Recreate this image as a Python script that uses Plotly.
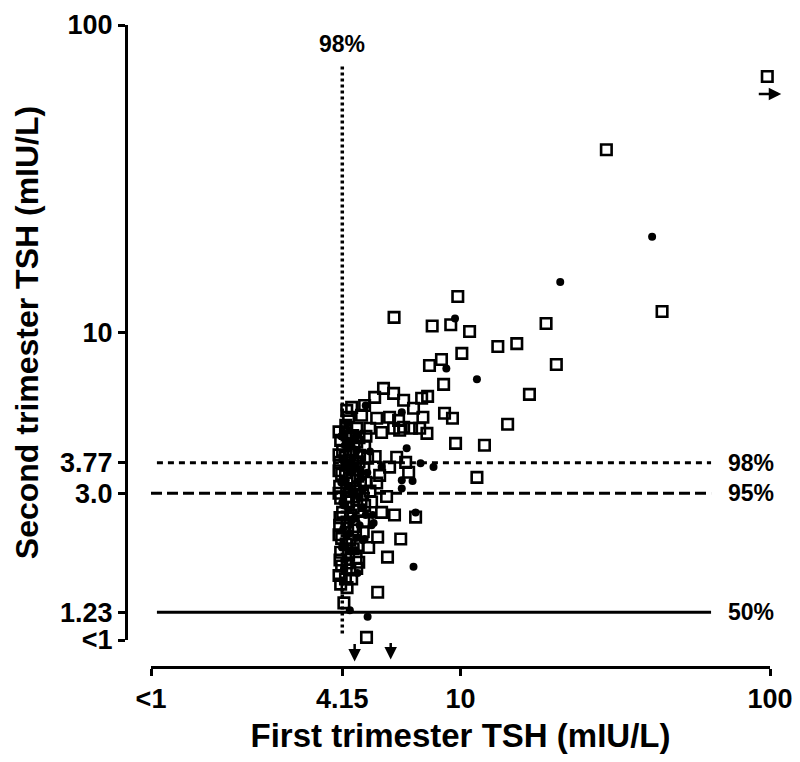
import math
import plotly.graph_objects as go

# ---------------- data ----------------
# open squares: (first trimester TSH, second trimester TSH)
sq_x = [98, 29.6, 44.8, 9.8, 6.1, 8.1, 9.3, 10.7, 18.9, 13.2, 15.2, 10.1, 20.4, 7.94, 8.68,
        16.7, 8.82, 14.2, 9.64, 11.95, 11.3, 7.49, 7.83, 5.64, 5.28, 6.08, 6.55, 7.05, 4.90,
        4.45, 4.35, 4.79, 5.36, 5.90, 6.31, 6.55, 6.95, 4.29, 4.62, 5.09, 5.56, 6.08, 8.88,
        9.42, 7.56, 7.38, 7.79, 6.36,
        6.22, 6.65, 6.80, 5.90, 5.48, 5.36, 5.77, 5.16, 5.56, 6.12, 7.16, 4.87, 5.40, 6.41,
        5.05, 5.81, 4.69, 4.45, 5.40, 4.20, 4.97,
        4.10, 4.35, 4.62, 4.90, 4.16, 4.42, 4.72, 5.01, 4.07, 4.32, 4.58, 4.87, 4.13, 4.39,
        4.65, 4.94, 4.07, 4.29, 4.55, 4.83, 4.10, 4.35, 4.62, 4.90, 4.16, 4.42, 4.69, 4.07,
        4.32, 4.58, 4.13, 4.39, 4.65, 4.10, 4.35, 4.13, 4.39, 4.62, 4.29, 4.26,
        4.05, 4.25, 4.48, 4.70, 4.95, 4.05, 4.25, 4.48, 4.70, 4.05, 4.25, 4.48, 4.75, 4.05,
        4.28, 4.50, 4.08, 4.30, 4.52, 4.05, 4.27, 4.50, 4.08, 4.30, 4.05, 4.25, 4.10, 4.30,
        4.60, 4.85, 5.10, 5.30]
sq_y = [68, 39.3, 11.7, 13.1, 11.2, 10.5, 10.6, 10.07, 10.7, 9.0, 9.2, 8.55, 7.87, 7.81, 8.17,
        6.29, 6.78, 5.03, 4.36, 4.30, 3.38, 6.11, 6.20, 6.58, 6.15, 6.34, 6.02, 5.67, 5.79,
        5.71, 5.30, 5.38, 5.26, 5.30, 5.18, 4.92, 4.88, 4.92, 4.88, 4.88, 4.73, 4.88, 5.46,
        5.26, 5.30, 4.88, 4.70, 4.81,
        3.93, 3.78, 3.51, 3.65, 3.43, 3.24, 2.93, 2.81, 2.60, 2.55, 2.51, 2.42, 2.16, 2.13,
        2.00, 1.86, 1.79, 1.58, 1.43, 1.32, 1.02,
        4.46, 4.53, 4.40, 4.27, 4.14, 4.08, 3.99, 3.90, 3.78, 3.70, 3.76, 3.62, 3.46, 3.36,
        3.41, 3.26, 3.16, 3.07, 3.11, 2.98, 2.89, 2.81, 2.85, 2.74, 2.60, 2.55, 2.64, 2.36,
        2.31, 2.28, 2.14, 2.11, 2.03, 1.93, 1.89, 1.74, 1.69, 1.71, 5.58, 4.99,
        4.75, 4.70, 4.62, 4.55, 4.60, 4.00, 3.95, 3.85, 3.80, 3.55, 3.50, 3.30, 3.20, 3.00,
        2.92, 2.70, 2.50, 2.42, 2.34, 2.20, 2.05, 1.98, 1.82, 1.78, 1.62, 1.58, 1.52, 1.48,
        1.84, 2.25, 3.05, 3.95]

# filled dots
dot_x = [41.6, 21.0, 9.6, 9.0, 11.3, 4.94, 6.46, 6.70, 7.43, 8.18, 6.46, 7.00, 6.46, 7.16,
         5.20, 5.16, 4.90, 7.05, 4.39, 5.01, 4.69, 5.40,
         4.23, 4.48, 4.76, 4.26, 4.52, 4.79, 4.20, 4.45, 4.72, 4.29, 4.58, 4.23, 4.83, 4.39,
         4.65, 4.94, 4.35, 4.52, 5.56, 5.24,
         4.12, 4.30, 4.45, 4.60, 4.15, 4.35, 4.55, 4.75, 4.12, 4.33, 4.52, 4.70, 4.15, 4.35,
         4.55, 4.18, 4.38, 4.60, 4.14, 4.40, 4.20, 4.65, 4.85, 5.00, 5.10, 4.30]
dot_y = [20.5, 14.6, 11.1, 7.64, 7.04, 5.79, 5.50, 4.20, 3.76, 3.65, 3.31, 3.29, 3.11, 2.60,
         2.55, 2.36, 2.13, 1.73, 1.25, 1.19, 0.985, 0.985,
         4.30, 3.90, 3.56, 3.31, 2.96, 3.11, 2.74, 2.45, 2.36, 2.19, 1.96, 1.82, 2.11, 3.62,
         4.63, 2.55, 4.20, 4.53, 3.65, 2.40,
         4.60, 4.45, 4.25, 4.10, 3.85, 3.75, 3.60, 3.45, 3.25, 3.15, 3.05, 2.90, 2.80, 2.65,
         2.50, 2.30, 2.22, 2.15, 2.00, 1.95, 1.70, 1.65, 2.70, 3.50, 4.10, 5.05]

# reference lines
cut_first_98 = 4.15
cut_second = [3.77, 3.0, 1.23]
cut_second_labels = ["98%", "95%", "50%"]
cut_second_dash = ["6px,5px", "11px,5px", "solid"]

x_tickvals = [1, 4.15, 10, 100]
x_ticktext = ["<1", "4.15", "10", "100"]
y_tickvals = [1, 1.23, 3.0, 3.77, 10, 100]
y_ticktext = ["<1", "1.23", "3.0", "3.77", "10", "100"]

FONT = "Liberation Sans, Arial, sans-serif"

fig = go.Figure()

# vertical 98% line
fig.add_trace(go.Scatter(x=[cut_first_98, cut_first_98], y=[1.05, 75], mode="lines",
                         line=dict(color="black", width=3.5, dash="3px,3px"),
                         hoverinfo="skip", showlegend=False, cliponaxis=False))
# horizontal lines
hl_start = [1.045, 1.0, 1.045]
for v, d, xs in zip(cut_second, cut_second_dash, hl_start):
    fig.add_trace(go.Scatter(x=[xs, 64.5], y=[v, v], mode="lines",
                             line=dict(color="black", width=3, dash=d),
                             hoverinfo="skip", showlegend=False, cliponaxis=False))

fig.add_trace(go.Scatter(x=sq_x, y=sq_y, mode="markers", showlegend=False, cliponaxis=False,
                         marker=dict(symbol="square-open", size=10.5, color="black",
                                     line=dict(width=2.6, color="black"))))
fig.add_trace(go.Scatter(x=dot_x, y=dot_y, mode="markers", showlegend=False, cliponaxis=False,
                         marker=dict(symbol="circle", size=8, color="black")))

annotations = []
for v, lab in zip(cut_second, cut_second_labels):
    annotations.append(dict(x=math.log10(72), y=math.log10(v), xref="x", yref="y", text=lab,
                            showarrow=False, xanchor="left", yanchor="middle",
                            font=dict(family=FONT, size=23, color="black", weight="bold")))
annotations.append(dict(x=math.log10(cut_first_98), y=math.log10(87), xref="x", yref="y",
                        text="98%", showarrow=False, xanchor="center", yanchor="middle",
                        font=dict(family=FONT, size=23, color="black", weight="bold")))
# arrows marking out-of-range values (head kept inside the axis range, then shifted in px)
arrows = [
    dict(x=math.log10(4.55), y=0.005, ax=0, ay=-19, xshift=0, yshift=-23),
    dict(x=math.log10(5.95), y=0.005, ax=0, ay=-18, xshift=0, yshift=-21),
    dict(x=math.log10(98), y=1.776, ax=-24, ay=0, xshift=14, yshift=0),
]
for a in arrows:
    annotations.append(dict(xref="x", yref="y", text="", showarrow=True,
                            arrowhead=2, arrowsize=1, arrowwidth=2.5, arrowcolor="black", **a))

fig.update_layout(
    width=800, height=762,
    margin=dict(l=126, r=30, t=25, b=95),
    paper_bgcolor="white", plot_bgcolor="white",
    font=dict(family=FONT, color="black", weight="bold"),
    annotations=annotations,
    xaxis=dict(type="log", range=[0, 2], domain=[25 / 644, 1], anchor="free", position=0,
               automargin=False,
               showgrid=False, zeroline=False, showline=True, linecolor="black", linewidth=3,
               ticks="outside", ticklen=7, tickwidth=3, tickcolor="black",
               tickmode="array", tickvals=x_tickvals, ticktext=x_ticktext,
               tickfont=dict(family=FONT, size=27, color="black", weight="bold"),
               title=dict(text="First trimester TSH (mIU/L)", standoff=10,
                          font=dict(family=FONT, size=33, color="black", weight="bold"))),
    yaxis=dict(type="log", range=[0, 2], domain=[27 / 642, 1], anchor="free", position=0,
               automargin=False,
               showgrid=False, zeroline=False, showline=True, linecolor="black", linewidth=3,
               ticks="outside", ticklen=7, tickwidth=3, tickcolor="black",
               tickmode="array", tickvals=y_tickvals, ticktext=y_ticktext,
               tickfont=dict(family=FONT, size=27, color="black", weight="bold"),
               title=dict(text="Second trimester TSH (mIU/L)", standoff=10,
                          font=dict(family=FONT, size=32, color="black", weight="bold"))),
)

fig.write_html("out.html", config={"displayModeBar": False},
               post_script="document.body.style.margin='0';document.body.style.padding='0';")
